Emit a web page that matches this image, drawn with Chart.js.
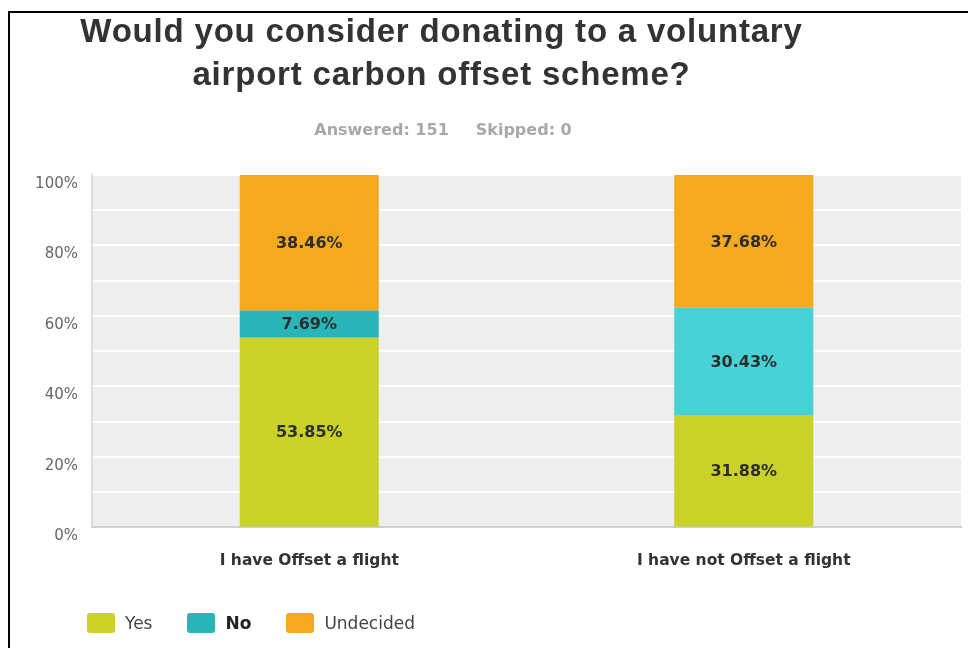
<!DOCTYPE html>
<html>
<head>
<meta charset="utf-8">
<script src="https://cdn.jsdelivr.net/npm/chart.js@4.4.1/dist/chart.umd.min.js"></script>
<style>
  html, body { margin: 0; background: #fff; }
  #wrap { position: relative; width: 968px; height: 648px; overflow: hidden; }
  #frame {
    position: absolute; left: 8px; top: 11px; right: -10px; bottom: -10px;
    border-top: 2px solid #000; border-left: 2px solid #000;
  }
  #chart { position: absolute; left: 0; top: 0; }
  .title {
    position: absolute; left: 0; top: 9px; width: 883px; margin: 0;
    text-align: center; color: #333;
    font: bold 33px/43px "Liberation Sans", Arial, sans-serif; letter-spacing: 0.8px;
  }
  .summary {
    position: absolute; left: 0; top: 120px; width: 886px;
    text-align: center; color: #a8a8a8;
    font: bold 16px/20px "DejaVu Sans", sans-serif;
  }
  .summary span + span { margin-left: 27px; }
  #legend {
    position: absolute; left: 87px; top: 613px; display: flex; align-items: center;
    font: 17px/20px "DejaVu Sans", sans-serif; color: #444;
  }
  #legend .item { display: flex; align-items: center; margin-right: 35px; }
  #legend .swatch { width: 28px; height: 20px; border-radius: 3px; margin-right: 10px; }
  #legend .active { font-weight: bold; color: #222; }
</style>
</head>
<body>
<div id="wrap">
  <div id="frame"></div>
  <canvas id="chart" width="968" height="648"></canvas>
  <h1 class="title">Would you consider donating to a voluntary<br>airport carbon offset scheme?</h1>
  <div class="summary"><span>Answered: 151</span><span>Skipped: 0</span></div>
  <div id="legend"></div>
</div>
<script>
const categories = ['I have Offset a flight', 'I have not Offset a flight'];
const seriesNames = ['Yes', 'No', 'Undecided'];
const yesValues = [53.85, 31.88];
const noValues = [7.69, 30.43];
const undecidedValues = [38.46, 37.68];
const yTicks = [0, 20, 40, 60, 80, 100];

const colours = {
  Yes: '#cad22a',
  No: '#47d2d6',
  NoActive: '#2ab6b8',
  Undecided: '#f5a91e'
};

// grey panel behind the bars
const plotBackground = {
  id: 'plotBackground',
  beforeDraw(chart) {
    const { ctx, chartArea: a } = chart;
    ctx.save();
    ctx.fillStyle = '#eeeeee';
    ctx.fillRect(a.left, a.top, a.right - a.left, a.bottom - a.top);
    ctx.restore();
  }
};

// percentage printed in the middle of each segment
const segmentLabels = {
  id: 'segmentLabels',
  afterDatasetsDraw(chart) {
    const ctx = chart.ctx;
    ctx.save();
    ctx.font = 'bold 16px "DejaVu Sans", sans-serif';
    ctx.fillStyle = '#2e2e2e';
    ctx.textAlign = 'center';
    ctx.textBaseline = 'middle';
    chart.data.datasets.forEach((ds, i) => {
      chart.getDatasetMeta(i).data.forEach((bar, j) => {
        const v = ds.data[j];
        ctx.fillText(v.toFixed(2) + '%', bar.x, (bar.y + bar.base) / 2 + 1);
      });
    });
    ctx.restore();
  }
};

const data = {
  labels: categories,
  datasets: [
    { label: seriesNames[0], data: yesValues, backgroundColor: colours.Yes },
    { label: seriesNames[1], data: noValues, backgroundColor: [colours.NoActive, colours.No] },
    { label: seriesNames[2], data: undecidedValues, backgroundColor: colours.Undecided }
  ]
};

const config = {
  type: 'bar',
  data: data,
  options: {
    responsive: false,
    animation: false,
    layout: { padding: { top: 175, right: 7, bottom: 54, left: 0 } },
    datasets: {
      bar: { categoryPercentage: 1, barPercentage: 0.32, borderWidth: 0 }
    },
    plugins: {
      legend: { display: false },
      tooltip: { enabled: false }
    },
    scales: {
      x: {
        stacked: true,
        grid: { display: false, drawTicks: false },
        border: { display: true, color: '#cfcfcf', width: 2 },
        ticks: {
          padding: 24,
          color: '#333',
          font: { family: '"DejaVu Sans", sans-serif', size: 15.5, weight: 'bold' }
        }
      },
      y: {
        stacked: true,
        min: 0,
        max: 100,
        afterFit(scale) { scale.width = 92; },
        afterBuildTicks(scale) {
          // a line every 10%, a label every 20%
          const ticks = [];
          for (let v = 0; v <= 100; v += 10) ticks.push({ value: v });
          scale.ticks = ticks;
        },
        grid: { color: '#ffffff', lineWidth: 2, drawTicks: false },
        border: { display: true, color: '#dcdcdc', width: 2 },
        ticks: {
          autoSkip: false,
          padding: 14,
          labelOffset: 9,
          color: '#666',
          font: { family: '"DejaVu Sans", sans-serif', size: 15 },
          callback: v => (yTicks.includes(v) ? v + '%' : '')
        }
      }
    }
  },
  plugins: [plotBackground, segmentLabels]
};

new Chart(document.getElementById('chart'), config);

// legend row under the chart
const legend = document.getElementById('legend');
seriesNames.forEach(name => {
  const item = document.createElement('div');
  item.className = 'item';
  const sw = document.createElement('span');
  sw.className = 'swatch';
  sw.style.background = name === 'No' ? colours.NoActive : colours[name];
  const txt = document.createElement('span');
  txt.textContent = name;
  if (name === 'No') txt.className = 'active';
  item.appendChild(sw);
  item.appendChild(txt);
  legend.appendChild(item);
});
</script>
</body>
</html>
